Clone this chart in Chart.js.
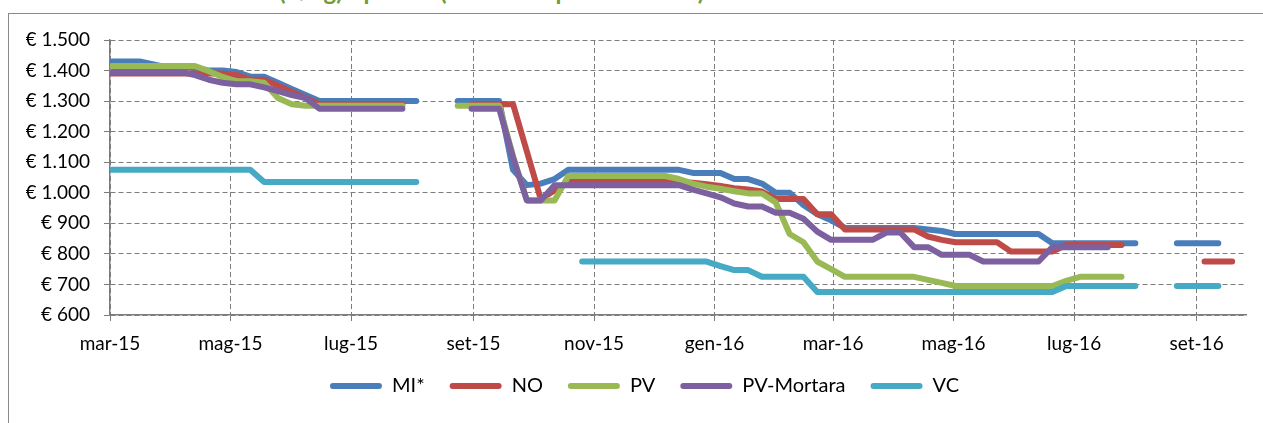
<!DOCTYPE html>
<html lang="it">
<head>
<meta charset="utf-8">
<title>Prezzi risone per piazza</title>
<script src="https://cdn.jsdelivr.net/npm/chart.js@4.4.0/dist/chart.umd.min.js"></script>
<style>
  html, body { margin: 0; padding: 0; background: #fff; }
  body { width: 1263px; height: 423px; position: relative; overflow: hidden; }
  .frame { position: absolute; left: 8px; top: 13px; width: 1400px; height: 600px; border: 1px solid #8a8a8a; box-sizing: border-box; }
  .heading { position: absolute; left: 279px; top: -24px; margin: 0; font: bold 24px/29px Lato, sans-serif; color: #739a37; white-space: nowrap; }
  #chart { position: absolute; left: 0; top: 0; }
</style>
</head>
<body>
<div class="frame"></div>
<h1 class="heading">(€/kg) - prezzo (media dei prezzi rilevati)</h1>
<canvas id="chart" width="1263" height="423"></canvas>
<script>
// weekly quotations (Monday of each week)
const weeks = [
  '2015-03-02', '2015-03-09', '2015-03-16', '2015-03-23', '2015-03-30',
  '2015-04-06', '2015-04-13', '2015-04-20', '2015-04-27',
  '2015-05-04', '2015-05-11', '2015-05-18', '2015-05-25',
  '2015-06-01', '2015-06-08', '2015-06-15', '2015-06-22', '2015-06-29',
  '2015-07-06', '2015-07-13', '2015-07-20', '2015-07-27',
  '2015-08-03', '2015-08-10', '2015-08-17', '2015-08-24', '2015-08-31',
  '2015-09-07', '2015-09-14', '2015-09-21', '2015-09-28',
  '2015-10-05', '2015-10-12', '2015-10-19', '2015-10-26',
  '2015-11-02', '2015-11-09', '2015-11-16', '2015-11-23', '2015-11-30',
  '2015-12-07', '2015-12-14', '2015-12-21', '2015-12-28',
  '2016-01-04', '2016-01-11', '2016-01-18', '2016-01-25',
  '2016-02-01', '2016-02-08', '2016-02-15', '2016-02-22', '2016-02-29',
  '2016-03-07', '2016-03-14', '2016-03-21', '2016-03-28',
  '2016-04-04', '2016-04-11', '2016-04-18', '2016-04-25',
  '2016-05-02', '2016-05-09', '2016-05-16', '2016-05-23', '2016-05-30',
  '2016-06-06', '2016-06-13', '2016-06-20', '2016-06-27',
  '2016-07-04', '2016-07-11', '2016-07-18', '2016-07-25',
  '2016-08-01', '2016-08-08', '2016-08-15', '2016-08-22', '2016-08-29',
  '2016-09-05', '2016-09-12', '2016-09-19'
];

const seriesNames = ['MI*', 'NO', 'PV', 'PV-Mortara', 'VC'];

// prices in €, null = no quotation
const mi = [
  1430, 1430, 1430, 1420, 1410, 1410, 1410, 1400, 1400, 1395,
  1380, 1380, 1360, 1340, 1320, 1300, 1300, 1300, 1300, 1300,
  1300, 1300, 1300, null, null, 1300, 1300, 1300, 1300, 1075,
  1025, 1030, 1045, 1075, 1075, 1075, 1075, 1075, 1075, 1075,
  1075, 1075, 1065, 1065, 1065, 1045, 1045, 1030, 1000, 1000,
  960, 930, 910, 885, 885, 885, 885, 885, 885, 880,
  875, 865, 865, 865, 865, 865, 865, 865, 835, 835,
  835, 835, 835, 835, 835, null, null, 835, 835, 835,
  835, null
];
const no = [
  1390, 1390, 1390, 1390, 1390, 1390, 1390, 1390, 1390, 1385,
  1370, 1370, 1350, 1330, 1310, 1290, 1290, 1290, 1290, 1290,
  1290, 1290, null, null, null, null, 1290, 1290, 1290, 1290,
  1135, 980, 1008, 1035, 1035, 1035, 1035, 1035, 1035, 1035,
  1035, 1035, 1033, 1028, 1022, 1015, 1011, 1004, 980, 980,
  980, 930, 930, 880, 880, 880, 880, 880, 880, 857,
  846, 838, 838, 838, 838, 808, 808, 808, 808, 829,
  829, 829, 829, 829, null, null, null, null, null, 775,
  775, 775
];
const pv = [
  1415, 1415, 1415, 1415, 1415, 1415, 1415, 1398, 1379, 1365,
  1365, 1360, 1310, 1290, 1285, 1285, 1285, 1285, 1285, 1285,
  1285, 1285, null, null, null, 1285, 1285, 1285, 1285, 1120,
  975, 975, 975, 1055, 1055, 1055, 1055, 1055, 1055, 1055,
  1055, 1045, 1030, 1020, 1013, 1005, 998, 998, 968, 865,
  838, 775, 750, 725, 725, 725, 725, 725, 725, 715,
  705, 695, 695, 695, 695, 695, 695, 695, 695, 712,
  725, 725, 725, 725, null, null, null, null, null, null,
  null, null
];
const pvMortara = [
  1395, 1395, 1395, 1395, 1395, 1395, 1385, 1370, 1360, 1355,
  1355, 1345, 1333, 1320, 1310, 1275, 1275, 1275, 1275, 1275,
  1275, 1275, null, null, null, null, 1275, 1275, 1275, 1115,
  975, 975, 1025, 1025, 1025, 1025, 1025, 1025, 1025, 1025,
  1025, 1025, 1010, 998, 985, 965, 955, 955, 935, 935,
  915, 873, 846, 846, 846, 846, 870, 870, 822, 822,
  797, 797, 797, 775, 775, 775, 775, 775, 822, 822,
  822, 822, 822, null, null, null, null, null, null, null,
  null, null
];
const vc = [
  1075, 1075, 1075, 1075, 1075, 1075, 1075, 1075, 1075, 1075,
  1075, 1035, 1035, 1035, 1035, 1035, 1035, 1035, 1035, 1035,
  1035, 1035, 1035, null, null, null, null, null, null, null,
  null, null, null, null, 775, 775, 775, 775, 775, 775,
  775, 775, 775, 775, 760, 747, 747, 725, 725, 725,
  725, 675, 675, 675, 675, 675, 675, 675, 675, 675,
  675, 675, 675, 675, 675, 675, 675, 675, 675, 695,
  695, 695, 695, 695, 695, null, null, 695, 695, 695,
  695, null
];

const yTickValues = [600, 700, 800, 900, 1000, 1100, 1200, 1300, 1400, 1500];
const yTickLabels = ['€ 600', '€ 700', '€ 800', '€ 900', '€ 1.000', '€ 1.100', '€ 1.200', '€ 1.300', '€ 1.400', '€ 1.500'];
const xTickDates = ['2015-03-01', '2015-05-01', '2015-07-01', '2015-09-01', '2015-11-01',
                    '2016-01-01', '2016-03-01', '2016-05-01', '2016-07-01', '2016-09-01'];
const xTickLabels = ['mar-15', 'mag-15', 'lug-15', 'set-15', 'nov-15',
                     'gen-16', 'mar-16', 'mag-16', 'lug-16', 'set-16'];
const axisStart = '2015-03-01';
const axisEnd = '2016-09-26';

const colors = ['#4a7ebb', '#be4b48', '#98b954', '#7d60a0', '#46aac5'];
const gridColor = '#7c7c7c';

// days since the start of the axis
const dayOf = (iso) => (Date.parse(iso) - Date.parse(axisStart)) / 86400000;

const datasets = [mi, no, pv, pvMortara, vc].map((values, i) => ({
    label: seriesNames[i],
    data: weeks.map((w, j) => ({ x: dayOf(w), y: values[j] })),
    borderColor: colors[i],
    backgroundColor: colors[i],
    borderWidth: 6,
    borderCapStyle: 'round',
    borderJoinStyle: 'round',
    pointRadius: 0,
    pointHoverRadius: 0,
    tension: 0,
    spanGaps: false,
    fill: false,
    order: 5 - i, // last series painted on top, like Excel
}));

// the legend sits a little closer to the axis labels than Chart.js would put it
const legendNudge = {
    id: 'legendNudge',
    afterLayout(chart) {
        chart.legend.top -= 4;
        chart.legend.bottom -= 4;
    },
};

new Chart(document.getElementById('chart'), {
    type: 'line',
    data: { datasets },
    plugins: [legendNudge],
    options: {
        responsive: false,
        animation: false,
        devicePixelRatio: 1,
        layout: { padding: { left: 26, right: 0, top: 40, bottom: 13 } },
        plugins: {
            tooltip: { enabled: false },
            legend: {
                position: 'bottom',
                labels: {
                    boxWidth: 52,
                    boxHeight: 6,
                    padding: 25,
                    color: '#000',
                    useBorderRadius: true,
                    borderRadius: 3,
                    font: { family: 'Lato', size: 20 },
                    generateLabels: (chart) => Chart.defaults.plugins.legend.labels.generateLabels(chart)
                        .sort((a, b) => a.datasetIndex - b.datasetIndex)
                        .map((item) => Object.assign(item, { lineWidth: 0, borderRadius: 3 })),
                },
            },
        },
        scales: {
            x: {
                type: 'linear',
                min: dayOf(axisStart),
                max: dayOf(axisEnd),
                afterBuildTicks: (scale) => {
                    scale.ticks = xTickDates.map((d) => ({ value: dayOf(d) }));
                },
                afterFit: (scale) => { scale.height = 40; },
                ticks: {
                    autoSkip: false,
                    maxRotation: 0,
                    padding: 11,
                    color: '#000',
                    font: { family: 'Lato', size: 19 },
                    callback: (value, index) => xTickLabels[index],
                },
                grid: {
                    color: gridColor,
                    lineWidth: 1,
                    tickLength: 6,
                    tickColor: gridColor,
                    tickBorderDash: [],
                },
                border: { display: true, color: gridColor, width: 1.5, dash: [5, 3] },
            },
            y: {
                min: 600,
                max: 1500,
                afterBuildTicks: (scale) => {
                    scale.ticks = yTickValues.map((v) => ({ value: v }));
                },
                afterFit: (scale) => { scale.width = 84; },
                ticks: {
                    padding: 14,
                    color: '#000',
                    font: { family: 'Lato', size: 19 },
                    callback: (value, index) => yTickLabels[index],
                },
                grid: {
                    color: gridColor,
                    lineWidth: 1,
                    tickLength: 6,
                    tickColor: gridColor,
                    tickBorderDash: [],
                },
                border: { display: true, color: gridColor, width: 1.5, dash: [5, 3] },
            },
            // empty strip on the right so the plot ends where the original does
            yRight: {
                position: 'right',
                min: 600,
                max: 1500,
                ticks: { display: false },
                grid: { display: false, drawTicks: false },
                border: { display: false },
                afterFit: (scale) => { scale.width = 17; },
            },
        },
    },
});
</script>
</body>
</html>
